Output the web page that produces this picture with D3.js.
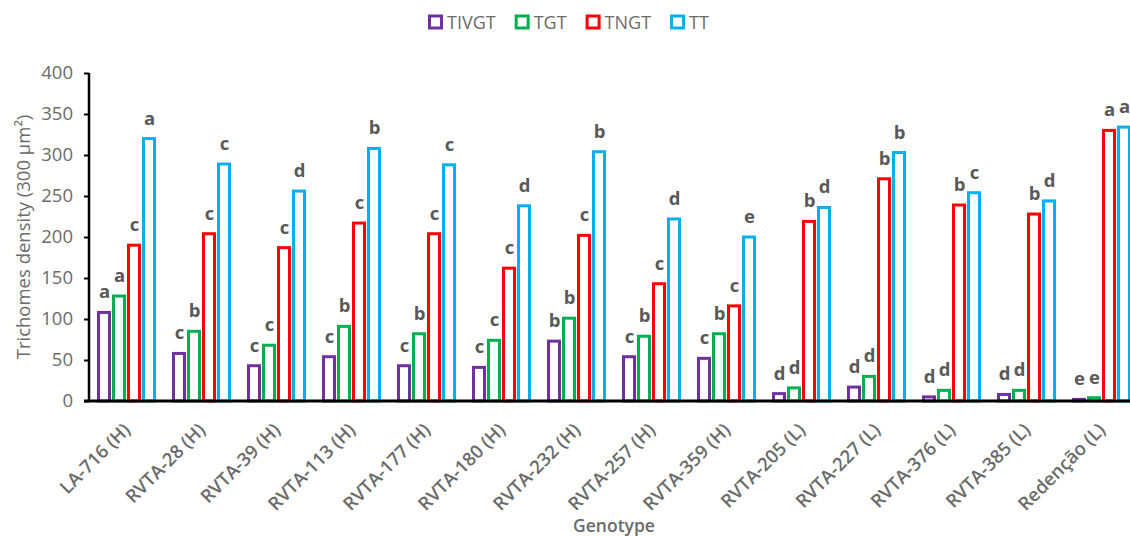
<!DOCTYPE html>
<html>
<head>
<meta charset="utf-8">
<script src="https://cdn.jsdelivr.net/npm/d3@7"></script>
<style>
  html, body { margin: 0; padding: 0; background: #fff; }
  svg { display: block; font-family: "Open Sans", "DejaVu Sans", sans-serif; }
</style>
</head>
<body>
<svg id="chart" width="1130" height="536"></svg>
<script>
const genotypes = ["LA-716 (H)", "RVTA-28 (H)", "RVTA-39 (H)", "RVTA-113 (H)", "RVTA-177 (H)", "RVTA-180 (H)", "RVTA-232 (H)", "RVTA-257 (H)", "RVTA-359 (H)", "RVTA-205 (L)", "RVTA-227 (L)", "RVTA-376 (L)", "RVTA-385 (L)", "Redenção (L)"];
const seriesNames = ["TIVGT", "TGT", "TNGT", "TT"];
const seriesColors = ["#7030A0", "#00B050", "#FF0000", "#00B0F0"];
const TIVGT = [108, 58, 43, 54, 43, 41, 73, 54, 52, 9, 17, 5, 8, 2];
const TGT   = [128, 85, 68, 91, 82, 74, 101, 79, 82, 16, 30, 13, 13, 4];
const TNGT  = [190, 204, 187, 217, 204, 162, 202, 143, 116, 219, 271, 239, 228, 330];
const TT    = [320, 289, 256, 308, 288, 238, 304, 222, 200, 236, 303, 254, 244, 334];
const lettersTIVGT = ["a","c","c","c","c","c","b","c","c","d","d","d","d","e"];
const lettersTGT   = ["a","b","c","b","b","c","b","b","b","d","d","d","d","e"];
const lettersTNGT  = ["c","c","c","c","c","c","c","c","c","b","b","b","b","a"];
const lettersTT    = ["a","c","d","b","c","d","b","d","e","d","b","c","d","a"];
const yTicks = [0, 50, 100, 150, 200, 250, 300, 350, 400];

const values = [TIVGT, TGT, TNGT, TT];
const letters = [lettersTIVGT, lettersTGT, lettersTNGT, lettersTT];

const svg = d3.select("#chart");
const textGray = "#6b6b6b";

const x0 = d3.scaleBand().domain(genotypes).range([89, 1139]).paddingInner(0.2).paddingOuter(0.1);
const x1 = d3.scaleBand().domain(seriesNames).range([0, x0.bandwidth()]).padding(0);
const y = d3.scaleLinear().domain([0, 400]).range([401, 73]);

// bars
const groups = svg.append("g").selectAll("g").data(genotypes).join("g")
  .attr("transform", d => `translate(${x0(d)},0)`);

seriesNames.forEach((s, si) => {
  groups.append("rect")
    .attr("x", x1(s) + 2)
    .attr("width", x1.bandwidth() - 4)
    .attr("y", (d, i) => y(values[si][i]))
    .attr("height", (d, i) => y(0) - y(values[si][i]))
    .attr("fill", "#fff")
    .attr("stroke", seriesColors[si])
    .attr("stroke-width", 3);
  groups.append("text")
    .attr("x", x1(s) + x1.bandwidth() / 2 + 0.5)
    .attr("y", (d, i) => y(values[si][i]) - 14)
    .attr("text-anchor", "middle")
    .attr("font-size", 18.5)
    .attr("font-weight", 700)
    .attr("fill", "#595959")
    .text((d, i) => letters[si][i]);
});

// y axis
const yAxis = d3.axisLeft(y).tickValues(yTicks).tickSize(5).tickPadding(11);
const gy = svg.append("g").attr("transform", "translate(89,0)").call(yAxis);
gy.select(".domain").attr("stroke", "#000").attr("stroke-width", 2.5).attr("d", `M0,${y(400)}V${y(0) + 1}`);
gy.selectAll(".tick line").attr("stroke", "#000").attr("stroke-width", 2);
gy.selectAll(".tick text").attr("font-size", 18.5).attr("fill", textGray).attr("font-family", "Open Sans");

// x axis
const xAxis = d3.axisBottom(x0).tickSize(0).tickPadding(0);
const gx = svg.append("g").attr("transform", `translate(0,${y(0)})`).call(xAxis);
gx.select(".domain").attr("stroke", "#000").attr("stroke-width", 3).attr("d", "M84,0H1130");
gx.selectAll(".tick text")
  .attr("font-size", 18.5)
  .attr("font-weight", 600)
  .attr("fill", textGray)
  .attr("font-family", "Open Sans")
  .attr("text-anchor", "end")
  .attr("dy", 0)
  .attr("transform", "translate(5,30) rotate(-45)");

// axis titles
svg.append("text")
  .attr("transform", "translate(30,237) rotate(-90)")
  .attr("text-anchor", "middle")
  .attr("font-size", 18.5)
  .attr("fill", textGray)
  .text("Trichomes density (300 µm²)");

svg.append("text")
  .attr("x", 614).attr("y", 532)
  .attr("text-anchor", "middle")
  .attr("font-size", 17.5)
  .attr("font-weight", 600)
  .attr("fill", textGray)
  .text("Genotype");

// legend
const legend = svg.append("g");
let lx = 428;
seriesNames.forEach((s, si) => {
  const it = legend.append("g").attr("transform", `translate(${lx},0)`);
  it.append("rect").attr("x", 1.5).attr("y", 16).attr("width", 12).attr("height", 12)
    .attr("fill", "#fff").attr("stroke", seriesColors[si]).attr("stroke-width", 3);
  const t = it.append("text").attr("x", 19).attr("y", 29)
    .attr("font-size", 18).attr("fill", textGray).text(s);
  lx += 19 + t.node().getComputedTextLength() + 19;
});
</script>
</body>
</html>
